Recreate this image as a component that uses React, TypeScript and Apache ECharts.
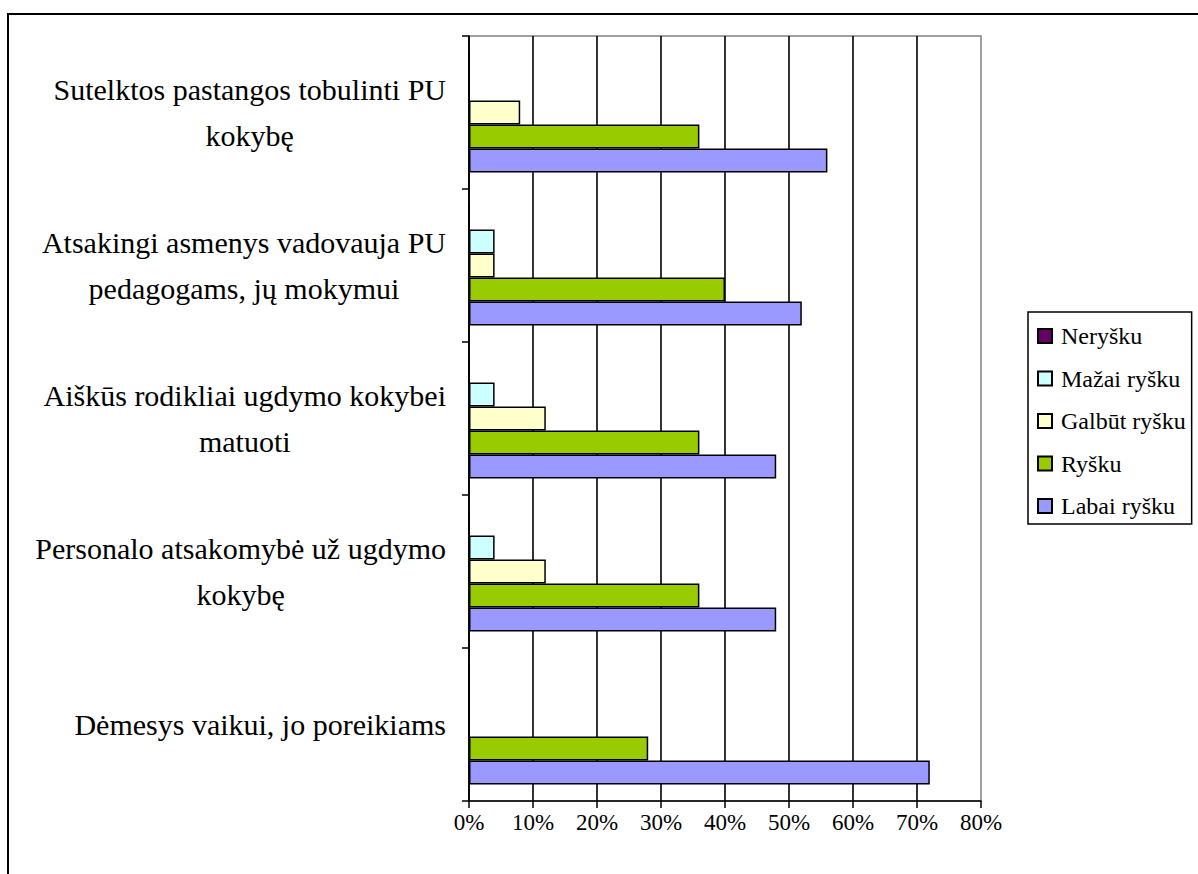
import React, { useEffect, useRef } from "react";
import * as echarts from "echarts";

const categories = [
  "Dėmesys vaikui, jo poreikiams",
  "Personalo atsakomybė už ugdymo\nkokybę",
  "Aiškūs rodikliai ugdymo kokybei\nmatuoti",
  "Atsakingi asmenys vadovauja PU\npedagogams, jų mokymui",
  "Sutelktos pastangos tobulinti PU\nkokybę",
];
const seriesNames = ["Neryšku", "Mažai ryšku", "Galbūt ryšku", "Ryšku", "Labai ryšku"];
const nerysku = [0, 0, 0, 0, 0];
const mazaiRysku = [0, 4, 4, 4, 0];
const galbutRysku = [0, 12, 12, 4, 8];
const rysku = [28, 36, 36, 40, 36];
const labaiRysku = [72, 48, 48, 52, 56];
const seriesColors = ["#660066", "#CCFFFF", "#FFFFCC", "#99CC00", "#9999FF"];
const xTicks = [0, 10, 20, 30, 40, 50, 60, 70, 80];

const FONT = "Liberation Serif";

export default function App() {
  const ref = useRef<HTMLDivElement>(null);
  useEffect(() => {
    document.body.style.margin = "0";
    document.body.style.overflow = "hidden";
    const chart = echarts.init(ref.current!, null, { renderer: "svg" });
    const values = [nerysku, mazaiRysku, galbutRysku, rysku, labaiRysku];
    chart.setOption({
      animation: false,
      backgroundColor: "#ffffff",
      textStyle: { fontFamily: FONT, color: "#000" },
      graphic: [
        {
          type: "rect",
          shape: { x: 8, y: 14, width: 1400, height: 1000 },
          style: { fill: "none", stroke: "#000", lineWidth: 2 },
          silent: true,
        },
      ],
      grid: {
        left: 469,
        top: 36,
        width: 512,
        height: 765,
        show: true,
        borderColor: "#808080",
        borderWidth: 1.5,
        backgroundColor: "transparent",
      },
      legend: {
        orient: "vertical",
        left: 1028,
        top: 312,
        data: seriesNames,
        icon: "rect",
        itemWidth: 14,
        itemHeight: 14,
        itemGap: 18.5,
        padding: [12, 6, 6, 9],
        borderColor: "#000",
        borderWidth: 1.5,
        textStyle: { fontFamily: FONT, fontSize: 24, color: "#000", lineHeight: 24, padding: [0, 0, 0, 4] },
      },
      xAxis: {
        type: "value",
        min: xTicks[0],
        max: xTicks[xTicks.length - 1],
        interval: 10,
        axisLine: { show: true, lineStyle: { color: "#000", width: 1.5 } },
        axisTick: { show: true, length: 7, lineStyle: { color: "#000", width: 1.5 } },
        axisLabel: {
          formatter: "{value}%",
          fontFamily: FONT,
          fontSize: 23,
          color: "#000",
          margin: 10,
        },
        splitLine: { show: true, showMaxLine: false, lineStyle: { color: "#000", width: 1.6 } },
      },
      yAxis: {
        type: "category",
        data: categories,
        axisLine: { show: true, lineStyle: { color: "#000", width: 1.5 } },
        axisTick: { show: true, length: 7, lineStyle: { color: "#000", width: 1.5 } },
        axisLabel: {
          fontFamily: FONT,
          fontSize: 30,
          color: "#000",
          margin: 23,
          align: "right",
          lineHeight: 46,
          formatter: (v: string) =>
            v
              .split("\n")
              .map((l) => "{c|" + l + "}")
              .join("\n"),
          rich: {
            c: { fontFamily: FONT, fontSize: 30, lineHeight: 46, color: "#000", align: "center" },
          },
        },
      },
      series: seriesNames.map((name, i) => ({
        name,
        type: "bar",
        data: values[i],
        barWidth: 24,
        barGap: "0%",
        itemStyle: { color: seriesColors[i], borderColor: "#000", borderWidth: 1.5 },
      })),
    });
    return () => chart.dispose();
  }, []);
  return <div ref={ref} style={{ width: 1198, height: 874 }} />;
}
